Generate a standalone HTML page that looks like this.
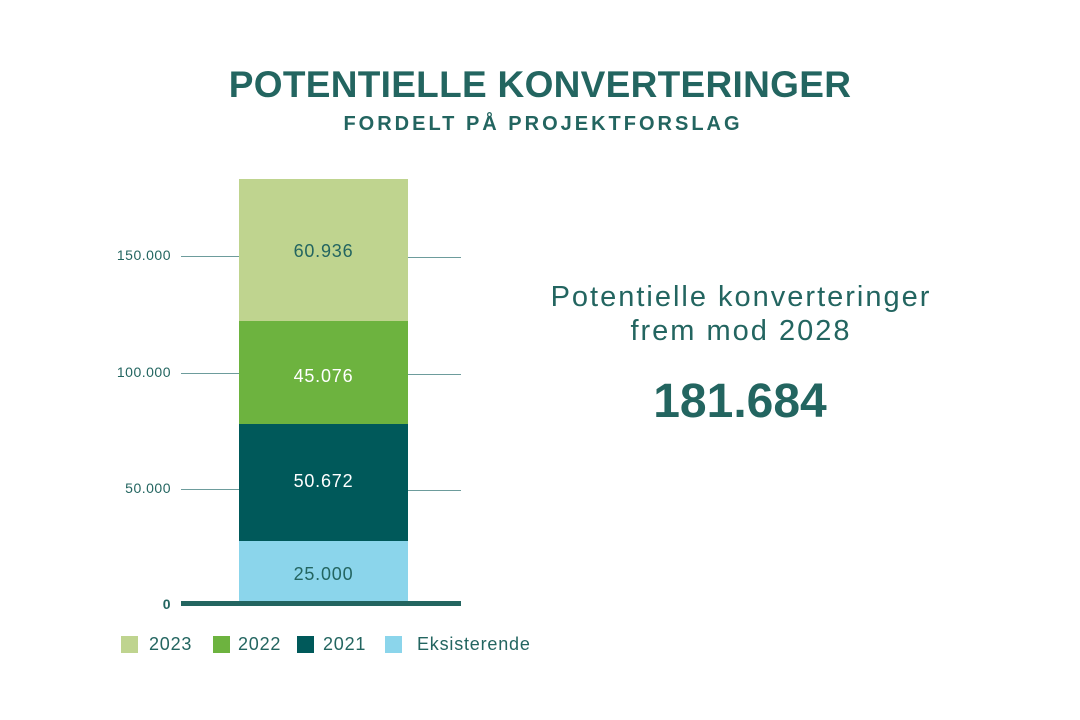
<!DOCTYPE html>
<html><head><meta charset="utf-8"><style>
html,body{margin:0;padding:0;background:#fff;}
body{width:1080px;height:720px;position:relative;overflow:hidden;font-family:"Liberation Sans",sans-serif;color:#236560;}
.a{position:absolute;}
.t1{left:0;width:1080px;top:64px;text-align:center;font-size:37px;font-weight:bold;letter-spacing:0.3px;}
.t2{left:0;width:1086px;top:113px;text-align:center;font-size:20px;font-weight:bold;letter-spacing:3px;}
.seg{position:absolute;left:239px;width:169px;text-align:center;font-size:18px;letter-spacing:0.8px;}
.tick{font-size:14px;text-align:right;width:80px;left:91px;letter-spacing:0.5px;}
.gl{height:1px;background:#6d9c9c;}
.lg{font-size:18px;letter-spacing:0.8px;}
.sq{width:17px;height:17px;}
</style></head><body>
<div class="a t1">POTENTIELLE KONVERTERINGER</div>
<div class="a t2">FORDELT PÅ PROJEKTFORSLAG</div>

<div class="a gl" style="left:181px;top:256px;width:58px"></div>
<div class="a gl" style="left:408px;top:257px;width:53px"></div>
<div class="a gl" style="left:181px;top:373px;width:58px"></div>
<div class="a gl" style="left:408px;top:374px;width:53px"></div>
<div class="a gl" style="left:181px;top:489px;width:58px"></div>
<div class="a gl" style="left:408px;top:490px;width:53px"></div>

<div class="seg" style="top:179px;height:142px;background:#bfd48f;"><div style="margin-top:62px">60.936</div></div>
<div class="seg" style="top:321px;height:103px;background:#6db33f;color:#fff;"><div style="margin-top:45px">45.076</div></div>
<div class="seg" style="top:424px;height:117px;background:#00595a;color:#fff;"><div style="margin-top:47px">50.672</div></div>
<div class="seg" style="top:541px;height:62px;background:#8bd5eb;"><div style="margin-top:23px">25.000</div></div>
<div class="a" style="left:181px;top:601px;width:280px;height:5px;background:#236560;"></div>

<div class="a tick" style="top:247px">150.000</div>
<div class="a tick" style="top:364px">100.000</div>
<div class="a tick" style="top:480px">50.000</div>
<div class="a tick" style="top:596px;font-weight:bold;">0</div>

<div class="a sq" style="left:121px;top:636px;background:#bfd48f"></div>
<div class="a lg" style="left:149px;top:634px">2023</div>
<div class="a sq" style="left:213px;top:636px;background:#6db33f"></div>
<div class="a lg" style="left:238px;top:634px">2022</div>
<div class="a sq" style="left:297px;top:636px;background:#00595a"></div>
<div class="a lg" style="left:323px;top:634px">2021</div>
<div class="a sq" style="left:385px;top:636px;background:#8bd5eb"></div>
<div class="a lg" style="left:417px;top:634px">Eksisterende</div>

<div class="a" style="left:499px;width:484px;top:280px;text-align:center;font-size:29px;line-height:34px;letter-spacing:2px;">Potentielle konverteringer<br>frem mod 2028</div>
<div class="a" style="left:520px;width:440px;top:374px;text-align:center;font-size:48px;font-weight:bold;">181.684</div>
</body></html>
